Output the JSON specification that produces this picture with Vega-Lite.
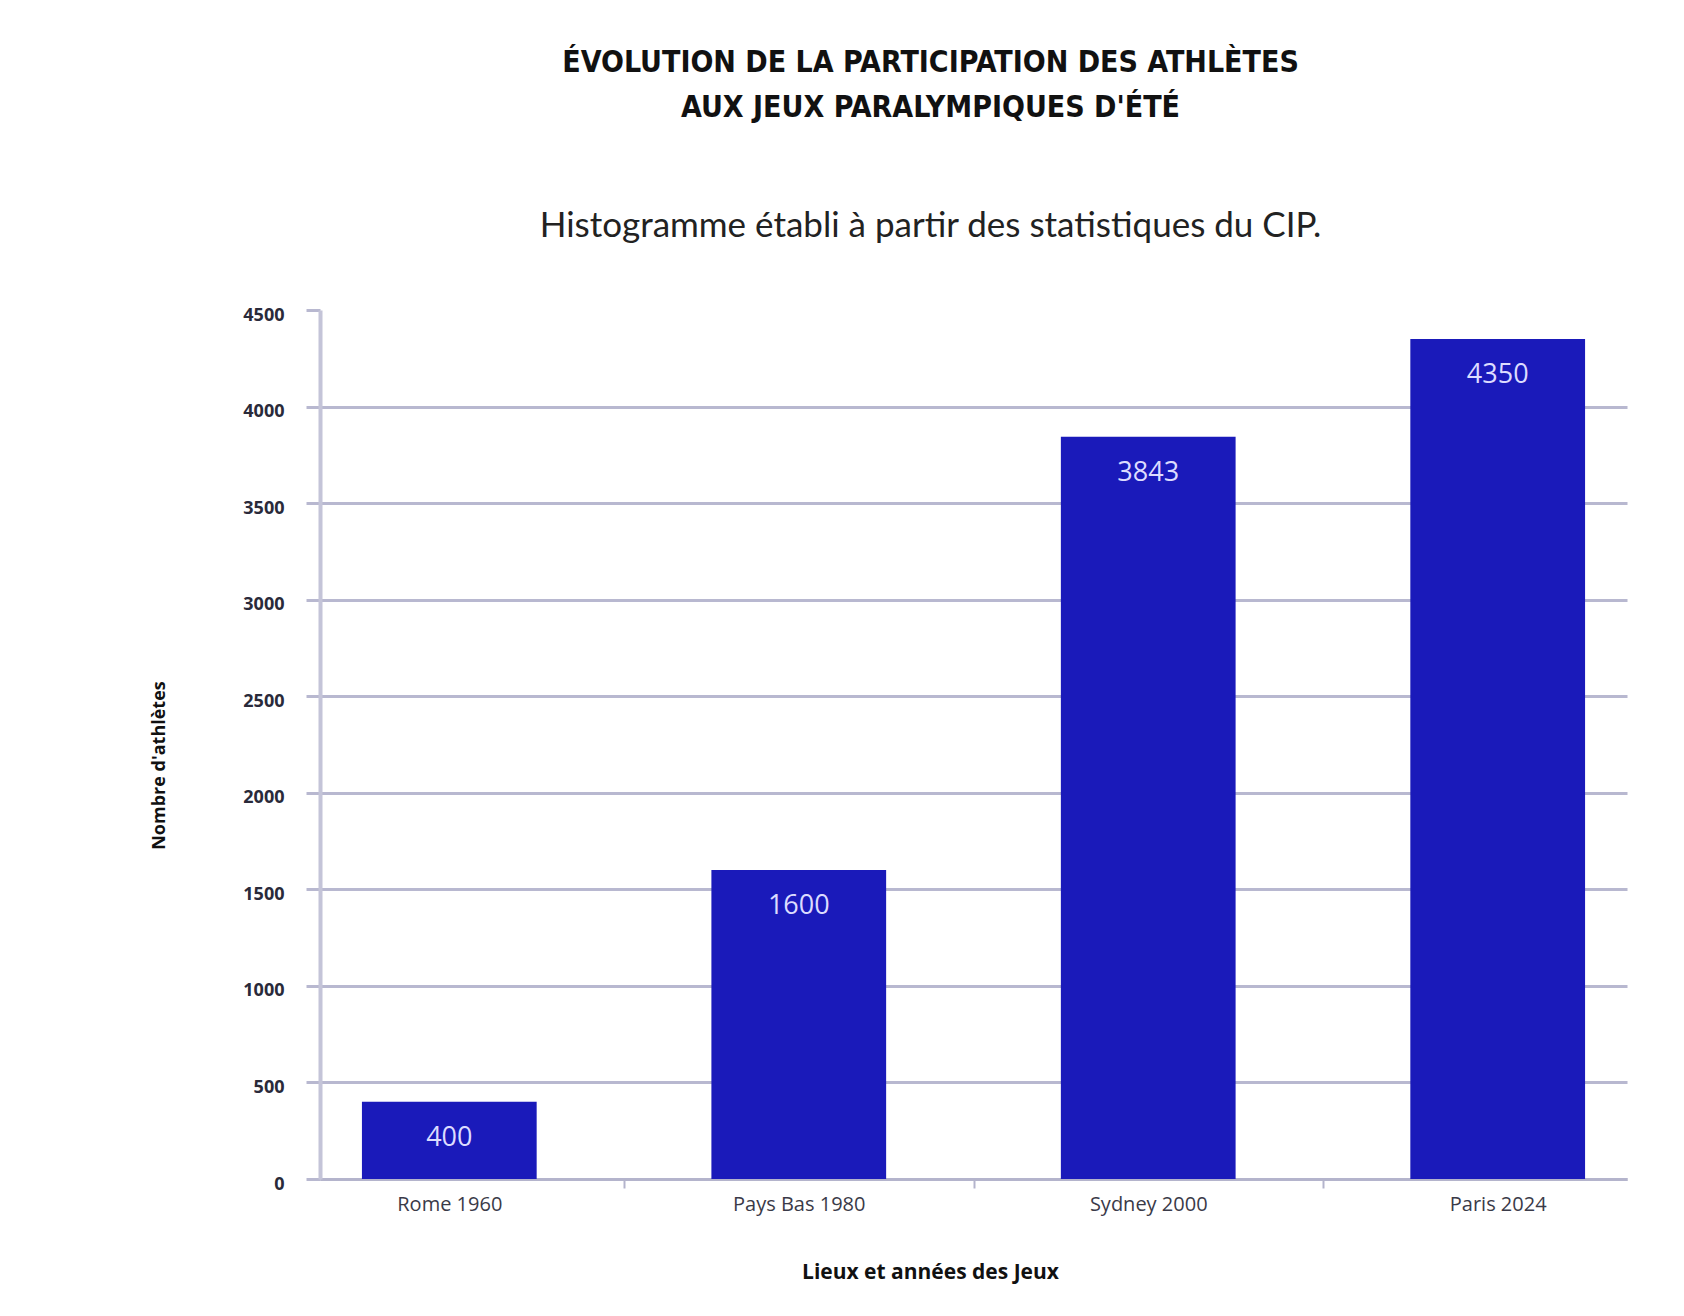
{
  "$schema": "https://vega.github.io/schema/vega-lite/v6.json",
  "width": 1307,
  "height": 869,
  "autosize": "none",
  "padding": {"left": 320, "top": 310, "right": 57, "bottom": 137},
  "background": "white",
  "title": {
    "text": ["ÉVOLUTION DE LA PARTICIPATION DES ATHLÈTES", "AUX JEUX PARALYMPIQUES D'ÉTÉ"],
    "subtitle": "Histogramme établi à partir des statistiques du CIP.",
    "anchor": "middle",
    "dx": -43,
    "font": "DejaVu Sans Condensed, DejaVu Sans, sans-serif",
    "fontSize": 30,
    "fontWeight": "bold",
    "lineHeight": 45,
    "color": "#111111",
    "subtitleFont": "Lato",
    "subtitleFontSize": 35,
    "subtitleColor": "#222222",
    "subtitlePadding": 86,
    "offset": 62
  },
  "data": {
    "values": [
      {"lieu": "Rome 1960", "athletes": 400},
      {"lieu": "Pays Bas 1980", "athletes": 1600},
      {"lieu": "Sydney 2000", "athletes": 3843},
      {"lieu": "Paris 2024", "athletes": 4350}
    ]
  },
  "encoding": {
    "x": {
      "field": "lieu",
      "type": "nominal",
      "sort": null,
      "scale": {"paddingInner": 0.5, "paddingOuter": 0.12},
      "axis": {
        "title": "Lieux et années des Jeux",
        "labelAngle": 0,
        "labelFont": "Open Sans",
        "labelFontSize": 20,
        "labelColor": "#3a3a48",
        "labelPadding": 6,
        "labelOffset": -175,
        "domainColor": "#b4b4cc",
        "domainWidth": 3,
        "tickOffset": 175,
        "tickOpacity": {"condition": {"test": "datum.value === 'Paris 2024'", "value": 0}, "value": 1},
        "tickColor": "#b4b4cc",
        "tickSize": 9,
        "tickWidth": 2,
        "titleFont": "Open Sans",
        "titleFontSize": 21,
        "titleFontWeight": "bold",
        "titleColor": "#111111",
        "titlePadding": 47,
        "titleX": 610,
        "titleAlign": "center"
      }
    },
    "y": {
      "field": "athletes",
      "type": "quantitative",
      "scale": {"domain": [0, 4500], "nice": false},
      "axis": {
        "title": "Nombre d'athlètes",
        "values": [0, 500, 1000, 1500, 2000, 2500, 3000, 3500, 4000, 4500],
        "format": "d",
        "grid": true,
        "gridColor": "#b8b8d0",
        "gridWidth": 3,
        "gridOpacity": {"condition": {"test": "datum.value >= 4500", "value": 0}, "value": 1},
        "domainColor": "#c4c4d8",
        "domainWidth": 4,
        "tickColor": "#b8b8d0",
        "tickSize": 14,
        "tickWidth": 3,
        "labelFont": "Open Sans",
        "labelFontSize": 18,
        "labelFontWeight": "bold",
        "labelColor": "#2a2a3a",
        "labelPadding": 22,
        "labelOffset": 5,
        "titleFont": "Open Sans",
        "titleFontSize": 18,
        "titleFontWeight": "bold",
        "titleColor": "#111111",
        "titleAngle": -90,
        "titleX": -161,
        "titleY": 455,
        "titleAlign": "center",
        "titleBaseline": "middle"
      }
    }
  },
  "layer": [
    {"mark": {"type": "bar", "color": "#1a1aba"}},
    {
      "mark": {"type": "text", "baseline": "middle", "dy": 36, "fontSize": 27, "font": "Open Sans", "color": "#dcdcff"},
      "encoding": {"text": {"field": "athletes", "type": "quantitative", "format": "d"}}
    }
  ],
  "config": {"view": {"stroke": null}}
}
